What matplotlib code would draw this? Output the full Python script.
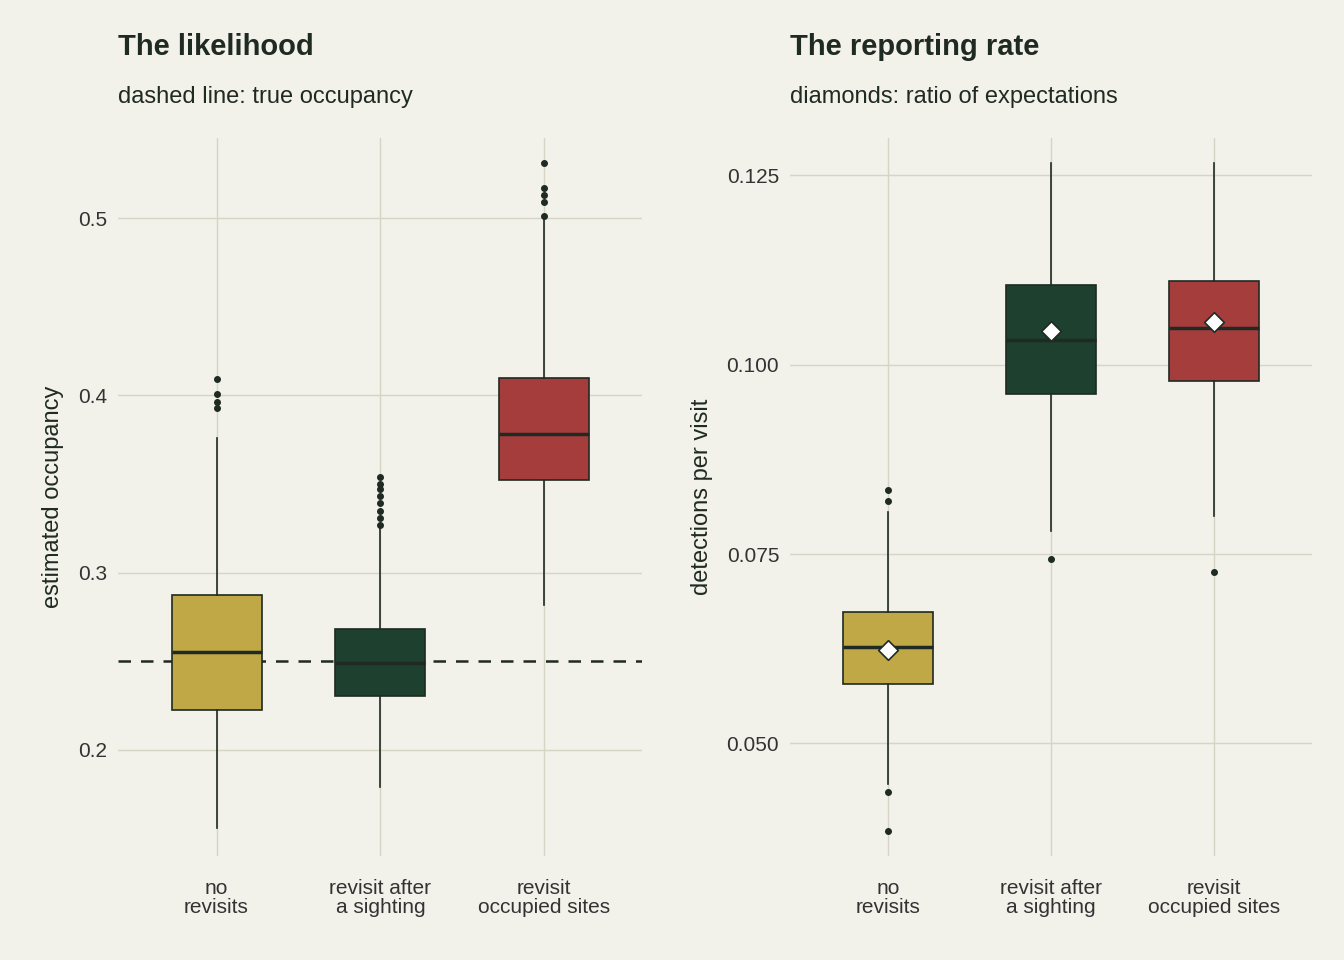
import matplotlib.pyplot as plt

plt.rcParams['font.family'] = ['Liberation Sans', 'DejaVu Sans']

categories = ['no\nrevisits', 'revisit after\na sighting', 'revisit\noccupied sites']
colors = ['#BFA845', '#1E402E', '#A63D3D']

# likelihood panel: estimated occupancy
occ_whislo = [0.156, 0.179, 0.282]
occ_q1 = [0.2226, 0.2305, 0.352]
occ_med = [0.2553, 0.249, 0.378]
occ_q3 = [0.2874, 0.268, 0.410]
occ_whishi = [0.376, 0.326, 0.4995]
occ_fliers = [
    [0.393, 0.396, 0.401, 0.409],
    [0.327, 0.331, 0.335, 0.339, 0.343, 0.347, 0.350, 0.354],
    [0.501, 0.509, 0.513, 0.517, 0.531],
]
true_occupancy = 0.25

# reporting rate panel: detections per visit
rr_whislo = [0.0447, 0.0780, 0.0800]
rr_q1 = [0.0578, 0.0962, 0.0979]
rr_med = [0.0627, 0.1033, 0.1048]
rr_q3 = [0.0673, 0.1105, 0.1110]
rr_whishi = [0.0806, 0.1266, 0.1266]
rr_fliers = [[0.0436, 0.0385, 0.0820, 0.0834], [0.0743], [0.0726]]
rr_ratio = [0.0624, 0.1045, 0.1057]

bg = '#F2F1EA'
grid = '#D5D5C5'
ink = '#1F2A22'


def stats(lo, q1, med, q3, hi, fl):
    return [dict(whislo=a, q1=b, med=c, q3=d, whishi=e, fliers=f)
            for a, b, c, d, e, f in zip(lo, q1, med, q3, hi, fl)]


def draw(ax, st):
    pos = [1, 2, 3]
    b = ax.bxp(st, positions=pos, widths=0.55, patch_artist=True,
               showcaps=False,
               boxprops=dict(edgecolor=ink, linewidth=1.2),
               medianprops=dict(color=ink, linewidth=2.5),
               whiskerprops=dict(color=ink, linewidth=1.2),
               flierprops=dict(marker='o', markersize=4, markerfacecolor=ink,
                               markeredgecolor=ink))
    for patch, c in zip(b['boxes'], colors):
        patch.set_facecolor(c)
    ax.set_facecolor(bg)
    for s in ax.spines.values():
        s.set_visible(False)
    ax.grid(True, color=grid, linewidth=1)
    ax.set_axisbelow(True)
    ax.tick_params(length=0, labelsize=15, colors='#333333')
    ax.tick_params(axis='x', pad=16)
    ax.tick_params(axis='y', pad=8)
    ax.set_xticks(pos)
    ax.set_xticklabels(categories, fontsize=15, linespacing=1.0)
    ax.set_xlim(0.4, 3.6)


fig = plt.figure(figsize=(13.44, 9.6), dpi=100, facecolor=bg)
ax1 = fig.add_axes([0.088, 0.108, 0.39, 0.748])
ax2 = fig.add_axes([0.588, 0.108, 0.388, 0.748])

draw(ax1, stats(occ_whislo, occ_q1, occ_med, occ_q3, occ_whishi, occ_fliers))
ax1.axhline(true_occupancy, color=ink, linestyle=(0, (5, 4)), linewidth=1.8, zorder=1.5)
ax1.set_ylim(0.14, 0.545)
ax1.set_yticks([0.2, 0.3, 0.4, 0.5])
ax1.set_yticklabels(['0.2', '0.3', '0.4', '0.5'])
ax1.set_ylabel('estimated occupancy', fontsize=17, color=ink, labelpad=10)

draw(ax2, stats(rr_whislo, rr_q1, rr_med, rr_q3, rr_whishi, rr_fliers))
ax2.scatter([1, 2, 3], rr_ratio, marker='D', s=100, color='white',
            edgecolor=ink, linewidth=1.2, zorder=5)
ax2.set_ylim(0.0351, 0.1299)
ax2.set_yticks([0.05, 0.075, 0.1, 0.125])
ax2.set_yticklabels(['0.050', '0.075', '0.100', '0.125'])
ax2.set_ylabel('detections per visit', fontsize=17, color=ink, labelpad=10)

fig.text(0.088, 0.951, 'The likelihood', fontsize=21, fontweight='bold', color=ink, va='center')
fig.text(0.088, 0.899, 'dashed line: true occupancy', fontsize=17, color=ink, va='center')
fig.text(0.588, 0.951, 'The reporting rate', fontsize=21, fontweight='bold', color=ink, va='center')
fig.text(0.588, 0.899, 'diamonds: ratio of expectations', fontsize=17, color=ink, va='center')

fig.savefig('out.png', dpi=100, facecolor=bg)
